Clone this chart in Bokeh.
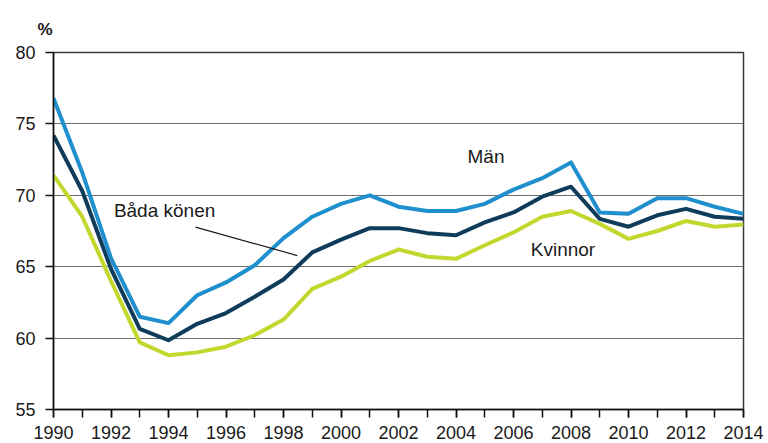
from bokeh.plotting import figure
from bokeh.models import SingleIntervalTicker, Label, Range1d
from bokeh.embed import file_html
from bokeh.resources import INLINE

years = list(range(1990, 2015))
man = [76.8, 71.6, 65.6, 61.5, 61.05, 63.0, 63.9, 65.1, 67.0, 68.5, 69.4, 70.0, 69.2, 68.9, 68.9, 69.4,
       70.4, 71.2, 72.3, 68.8, 68.7, 69.8, 69.8, 69.2, 68.7]
bada = [74.2, 70.3, 64.85, 60.65, 59.85, 61.0, 61.75, 62.9, 64.1, 66.0, 66.9, 67.7, 67.7, 67.35, 67.2, 68.1,
        68.8, 69.9, 70.6, 68.35, 67.8, 68.6, 69.05, 68.5, 68.35]
kvinnor = [71.4, 68.5, 64.0, 59.7, 58.8, 59.0, 59.4, 60.2, 61.3, 63.45, 64.3, 65.4, 66.2, 65.7, 65.55, 66.5,
           67.4, 68.5, 68.9, 68.0, 66.95, 67.5, 68.2, 67.8, 67.95]

series_names = ["Kvinnor", "Båda könen", "Män"]
series_colors = ["#c3d82e", "#0f3c5a", "#1f8fce"]

FONT = "Liberation Sans"

p = figure(width=768, height=443, output_backend="svg", toolbar_location=None,
           x_range=Range1d(1990, 2014), y_range=Range1d(55, 80),
           min_border_left=53, min_border_right=25, min_border_top=52, min_border_bottom=34,
           title="%")

p.title.text_font = FONT
p.title.text_font_size = "17px"
p.title.text_font_style = "bold"
p.title.text_color = "#1a1a1a"
p.title.align = "left"
p.title.offset = -16
p.title.standoff = 27

p.outline_line_color = "#3a3a3a"
p.outline_line_width = 1.5
p.background_fill_color = "white"
p.border_fill_color = "white"

p.xgrid.grid_line_color = None
p.ygrid.grid_line_color = "#6e6e6e"
p.ygrid.grid_line_width = 1

p.xaxis.ticker = SingleIntervalTicker(interval=2, num_minor_ticks=2)
p.yaxis.ticker = SingleIntervalTicker(interval=5, num_minor_ticks=0)

for ax in (p.xaxis, p.yaxis):
    ax.axis_line_color = "#111111"
    ax.axis_line_width = 1.5
    ax.major_tick_line_color = "#111111"
    ax.major_tick_line_width = 1.5
    ax.minor_tick_line_color = "#111111"
    ax.minor_tick_line_width = 1.5
    ax.major_tick_in = 0
    ax.minor_tick_in = 0
    ax.major_tick_out = 8
    ax.minor_tick_out = 8
    ax.major_label_text_font = FONT
    ax.major_label_text_font_size = "18px"
    ax.major_label_text_color = "#1a1a1a"

p.xaxis.major_label_standoff = 8
p.yaxis.major_label_standoff = 10
p.yaxis.minor_tick_line_color = None

for name, vals, col in zip(series_names, [kvinnor, bada, man], series_colors):
    p.line(years, vals, line_color=col, line_width=4, line_join="round")

# leader line for "Båda könen"
p.line([1994.94, 1998.48], [67.77, 65.78], line_color="#1a1a1a", line_width=1.2)

label_texts = ["Män", "Båda könen", "Kvinnor"]
label_x = [2004.4, 1992.1, 2006.6]
label_y = [72.72, 68.94, 66.2]
for t, lx, ly in zip(label_texts, label_x, label_y):
    p.add_layout(Label(x=lx, y=ly, text=t, text_font=FONT, text_font_size="19px",
                       text_color="#1a1a1a", text_baseline="middle", text_align="left"))

open("out.html", "w").write(file_html(p, INLINE))
